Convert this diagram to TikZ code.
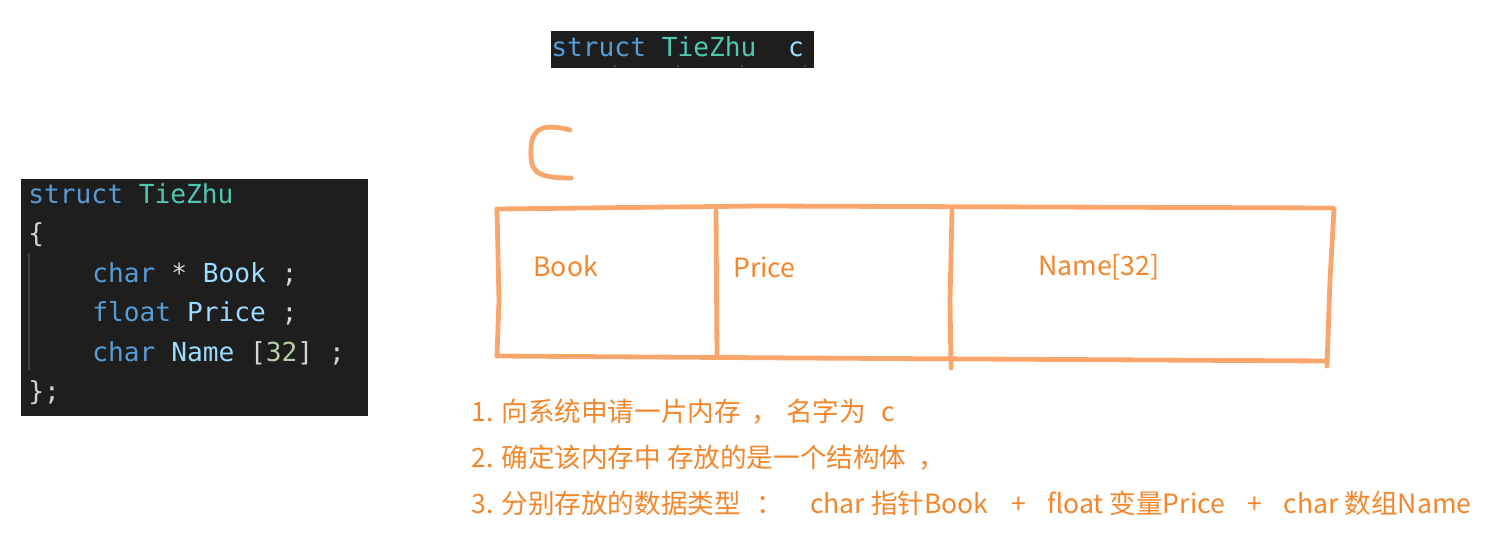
\documentclass[tikz,border=0pt]{standalone}
\usepackage{fontspec}
\newfontfamily\cjk{Noto Sans CJK SC}
\newfontfamily\codefont{DejaVu Sans Mono}
\definecolor{codebg}{HTML}{1E1E1E}
\definecolor{kwblue}{HTML}{569CD6}
\definecolor{typegreen}{HTML}{4EC9B0}
\definecolor{varblue}{HTML}{9CDCFE}
\definecolor{punct}{HTML}{D4D4D4}
\definecolor{numgreen}{HTML}{B5CEA8}
\definecolor{guidegrey}{HTML}{404040}
\definecolor{penorange}{HTML}{F9A66C}
\definecolor{textorange}{HTML}{F5852A}
\tikzset{
  codeline/.style={anchor=base west,inner sep=0pt,text=punct,
    font=\codefont\fontsize{13.1}{15}\selectfont},
  pen/.style={draw=penorange,line width=2.4pt,line cap=round,line join=round},
  fieldlabel/.style={anchor=west,inner sep=0pt,text=textorange,
    font=\cjk\fontsize{13.3}{15}\selectfont},
  noteline/.style={fieldlabel},
}
\newcommand{\kw}[1]{\textcolor{kwblue}{#1}}
\newcommand{\vr}[1]{\textcolor{varblue}{#1}}
\newcommand{\gap}[1]{\hspace{#1em}}
\begin{document}
\begin{tikzpicture}[x=0.5pt,y=-0.5pt]
\useasboundingbox (0,0) rectangle (1488,556);
% declaration of c
\fill[codebg] (551,31) rectangle (814,68);
\node[codeline] (decl) at (551,57) {\kw{struct}~\textcolor{typegreen}{TieZhu}~~\vr{c}};
\foreach \xx in {615,678,742,805} {
  \draw[guidegrey,line width=0.6pt] (\xx,65) -- (\xx,67);
}

% struct definition
\fill[codebg] (21,179) rectangle (368,416);
\draw[guidegrey,line width=0.8pt] (29,253) -- (29,370);
\node[codeline] (head) at (28,203) {\kw{struct}~\textcolor{typegreen}{TieZhu}};
\node[codeline] (open) at (28,242.5) {\{};
\node[codeline] (book) at (92,282) {\kw{char}~*~\vr{Book}~;};
\node[codeline] (price) at (92,321.5) {\kw{float}~\vr{Price}~;};
\node[codeline] (name) at (92,361) {\kw{char}~\vr{Name}~[\textcolor{numgreen}{32}]~;};
\node[codeline] (close) at (28,400.5) {\};};

% memory sketch
\draw[pen] (570,130) .. controls (546,124) and (532,126) .. (531,148)
  .. controls (530,171) and (534,178) .. (571,178);
\draw[pen] (497,209) -- (760,206) -- (1333,208);
\draw[pen] (497,209) -- (499,300) -- (497,356);
\draw[pen] (497,356) -- (800,358) -- (1326,361);
\draw[pen] (1334,209) -- (1330,280) -- (1327,366);
\draw[pen] (716,211) -- (717,356);
\draw[pen] (952,211) -- (950,300) -- (951,368);
\node[fieldlabel] (fbook) at (533,266) {Book};
\node[fieldlabel] (fprice) at (733,267) {Price};
\node[fieldlabel] (fname) at (1038,267) {Name[32]};

% notes
\node[noteline] (step1) at (471,412) {1. 向系统申请一片内存\gap{0.4}，\gap{0.3}名字为\gap{0.6}c};
\node[noteline] (step2) at (471,458) {2. 确定该内存中 存放的是一个结构体\gap{0.45}，};
\node[noteline] (step3) at (471,503) {3. 分别存放的数据类型\gap{0.6}：\gap{1}char 指针Book\gap{0.85}+\gap{0.8}float 变量Price\gap{0.85}+\gap{0.8}char 数组Name};
\end{tikzpicture}
\end{document}
